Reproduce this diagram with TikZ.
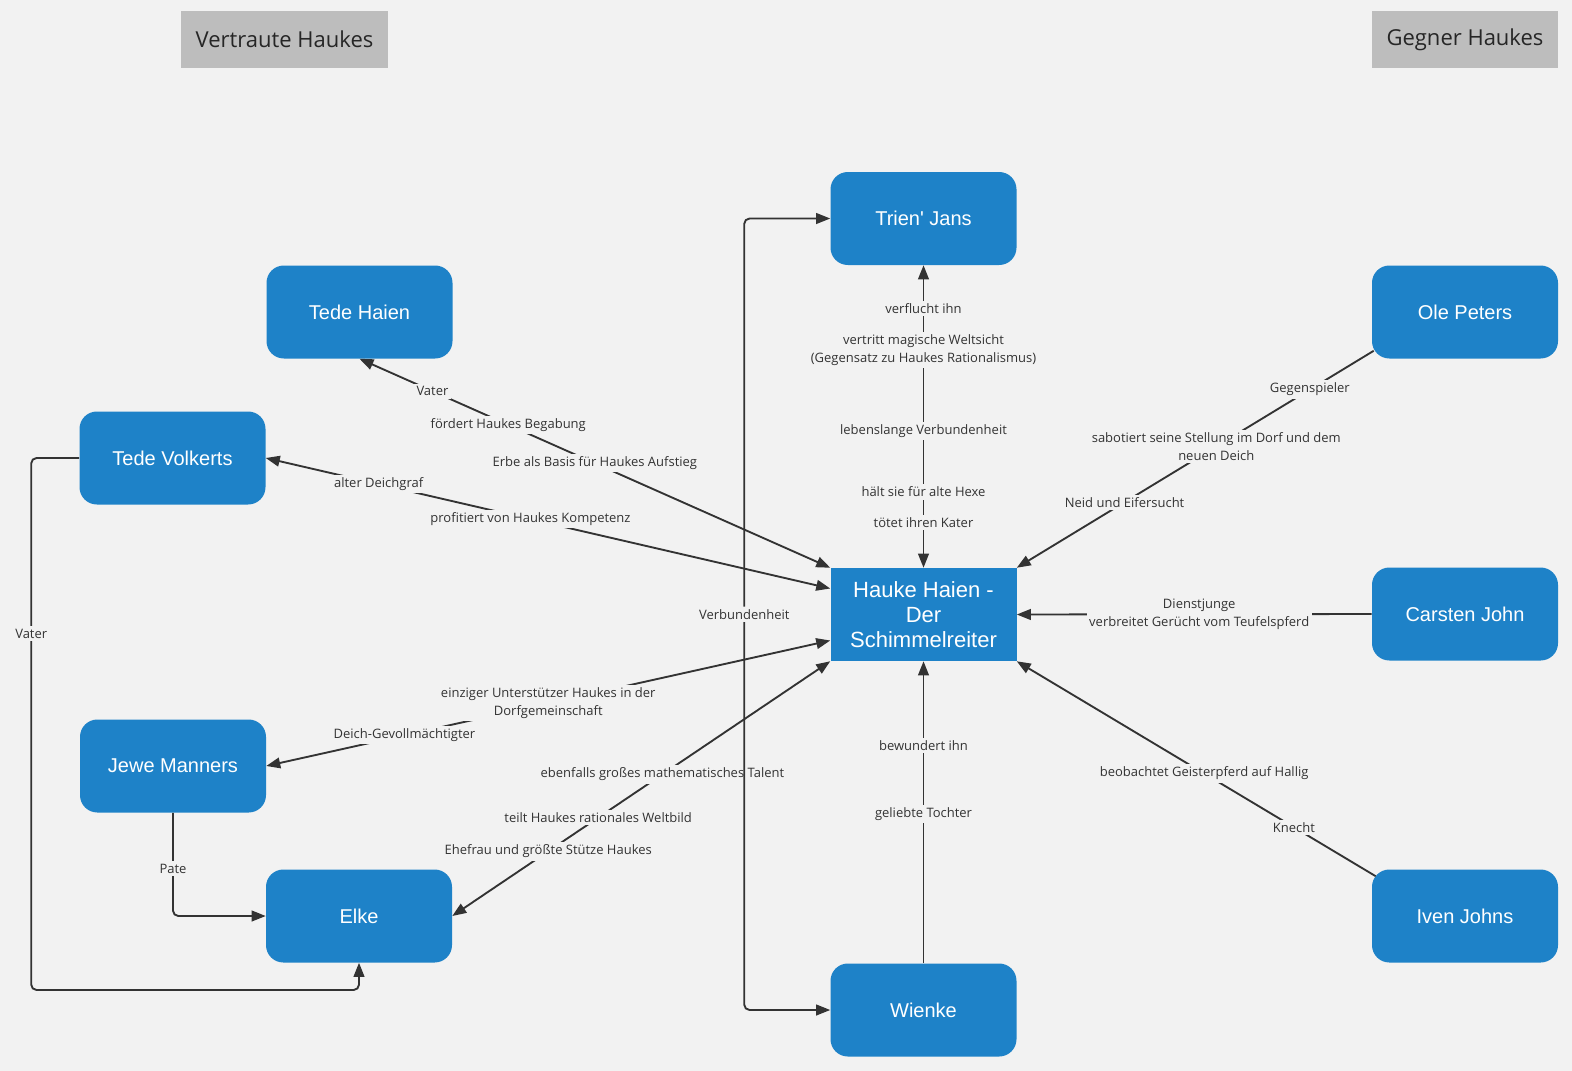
\documentclass[tikz,border=0pt]{standalone}
\usepackage{fontspec}
\setmainfont{Open Sans}
\newfontfamily\nodefont{Liberation Sans}
\usetikzlibrary{arrows.meta,calc}
\definecolor{bg}{HTML}{F2F2F2}
\definecolor{nblue}{HTML}{1E82C8}
\definecolor{hgray}{HTML}{BDBDBD}
\definecolor{lcol}{HTML}{333333}
\begin{document}
\begin{tikzpicture}[x=0.75pt,y=-0.75pt,
  person/.style={rectangle, rounded corners=13pt, fill=nblue, text=white,
    minimum width=139.5pt, minimum height=69.75pt, inner sep=0pt, align=center,
    font=\nodefont\fontsize{15}{18}\selectfont},
  hero/.style={person, rounded corners=0pt, font=\nodefont\fontsize{16.5}{18.75}\selectfont},
  header/.style={rectangle, fill=hgray, text=black!85, minimum height=42.75pt,
    inner sep=0pt, font=\fontsize{16.5}{20}\selectfont},
  lbl/.style={fill=bg, text=lcol, inner sep=2pt, align=center,
    font=\fontsize{9.75}{13.5}\selectfont},
  conn/.style={draw=lcol, line width=1.4pt},
  arrowend/.style={-{Triangle[length=10.5pt,width=8pt]}},
  biarrow/.style={{Triangle[length=10.5pt,width=8pt]}-{Triangle[length=10.5pt,width=8pt]}}
]
\useasboundingbox (0,0) rectangle (1572,1071);
\fill[bg] (0,0) rectangle (1572,1071);

% headers
\node[header, minimum width=155.25pt] (vh) at (284.5,39.5) {Vertraute Haukes};
\node[header, minimum width=139.5pt] (gh) at (1465,39.5) {Gegner Haukes};

% persons
\node[person] (trien) at (923.5,218.5) {Trien\textquotesingle{} Jans};
\node[person] (tedehaien) at (359.5,312) {Tede Haien};
\node[person] (tedevolkerts) at (172.5,458) {Tede Volkerts};
\node[person] (jewe) at (173,766) {Jewe Manners};
\node[person] (elke) at (359,916) {Elke};
\node[person] (wienke) at (923.5,1010) {Wienke};
\node[person] (ole) at (1465,312) {Ole Peters};
\node[person] (carsten) at (1465,614) {Carsten John};
\node[person] (iven) at (1465,916) {Iven Johns};
\node[hero] (hauke) at (923.5,614.5) {Hauke Haien -\\Der\\Schimmelreiter};

\coordinate (oleout) at ($(ole.south west)+(2,-8)$);
\coordinate (ivenout) at ($(iven.north west)+(4,7)$);

% left side edges
\draw[conn, biarrow] (tedehaien.south) --
  node[lbl,pos=0.155]{Vater}
  node[lbl,pos=0.316]{fördert Haukes Begabung}
  node[lbl,pos=0.5]{Erbe als Basis für Haukes Aufstieg}
  (hauke.north west);
\draw[conn, biarrow] (tedevolkerts.east) --
  node[lbl,pos=0.2]{alter Deichgraf}
  node[lbl,pos=0.469]{profitiert von Haukes Kompetenz}
  ([yshift=19.5pt]hauke.west);
\draw[conn, biarrow] (jewe.east) --
  node[lbl,pos=0.245]{Deich-Gevollmächtigter}
  node[lbl,pos=0.5]{einziger Unterstützer Haukes in der\\Dorfgemeinschaft}
  ([yshift=-19.5pt]hauke.west);
\draw[conn, biarrow] (elke.east) --
  node[lbl,pos=0.254]{Ehefrau und größte Stütze Haukes}
  node[lbl,pos=0.386]{teilt Haukes rationales Weltbild}
  node[lbl,pos=0.556]{ebenfalls großes mathematisches Talent}
  (hauke.south west);

\draw[conn, arrowend, rounded corners=4pt] (tedevolkerts.west) -- ++(-48,0)
  -- node[lbl,pos=0.33]{Vater} ++(0,532) -| (elke.south);
\draw[conn, arrowend, rounded corners=4pt] (jewe.south) |-
  node[lbl,pos=0.27]{Pate} (elke.west);

% vertical edges
\draw[conn, biarrow] (trien.south) --
  node[lbl,pos=0.142]{verflucht ihn}
  node[lbl,pos=0.28]{vertritt magische Weltsicht\\(Gegensatz zu Haukes Rationalismus)}
  node[lbl,pos=0.548]{lebenslange Verbundenheit}
  node[lbl,pos=0.749]{hält sie für alte Hexe}
  node[lbl,pos=0.851]{tötet ihren Kater}
  (hauke.north);
\draw[conn, arrowend] (wienke.north) --
  node[lbl,pos=0.495]{geliebte Tochter}
  node[lbl,pos=0.72]{bewundert ihn}
  (hauke.south);

\draw[conn, biarrow, rounded corners=4pt] (trien.west) -- ++(-86,0) |-
  node[lbl,pos=0.25]{Verbundenheit} (wienke.west);

% right side edges
\draw[conn, arrowend] (oleout) --
  node[lbl,pos=0.179]{Gegenspieler}
  node[lbl,pos=0.441]{sabotiert seine Stellung im Dorf und dem\\neuen Deich}
  node[lbl,pos=0.698]{Neid und Eifersucht}
  (hauke.north east);
\draw[conn, arrowend] (carsten.west) --
  node[lbl,pos=0.486]{Dienstjunge\\verbreitet Gerücht vom Teufelspferd}
  (hauke.east);
\draw[conn, arrowend] (ivenout) --
  node[lbl,pos=0.228]{Knecht}
  node[lbl,pos=0.478]{beobachtet Geisterpferd auf Hallig}
  (hauke.south east);
\end{tikzpicture}
\end{document}
